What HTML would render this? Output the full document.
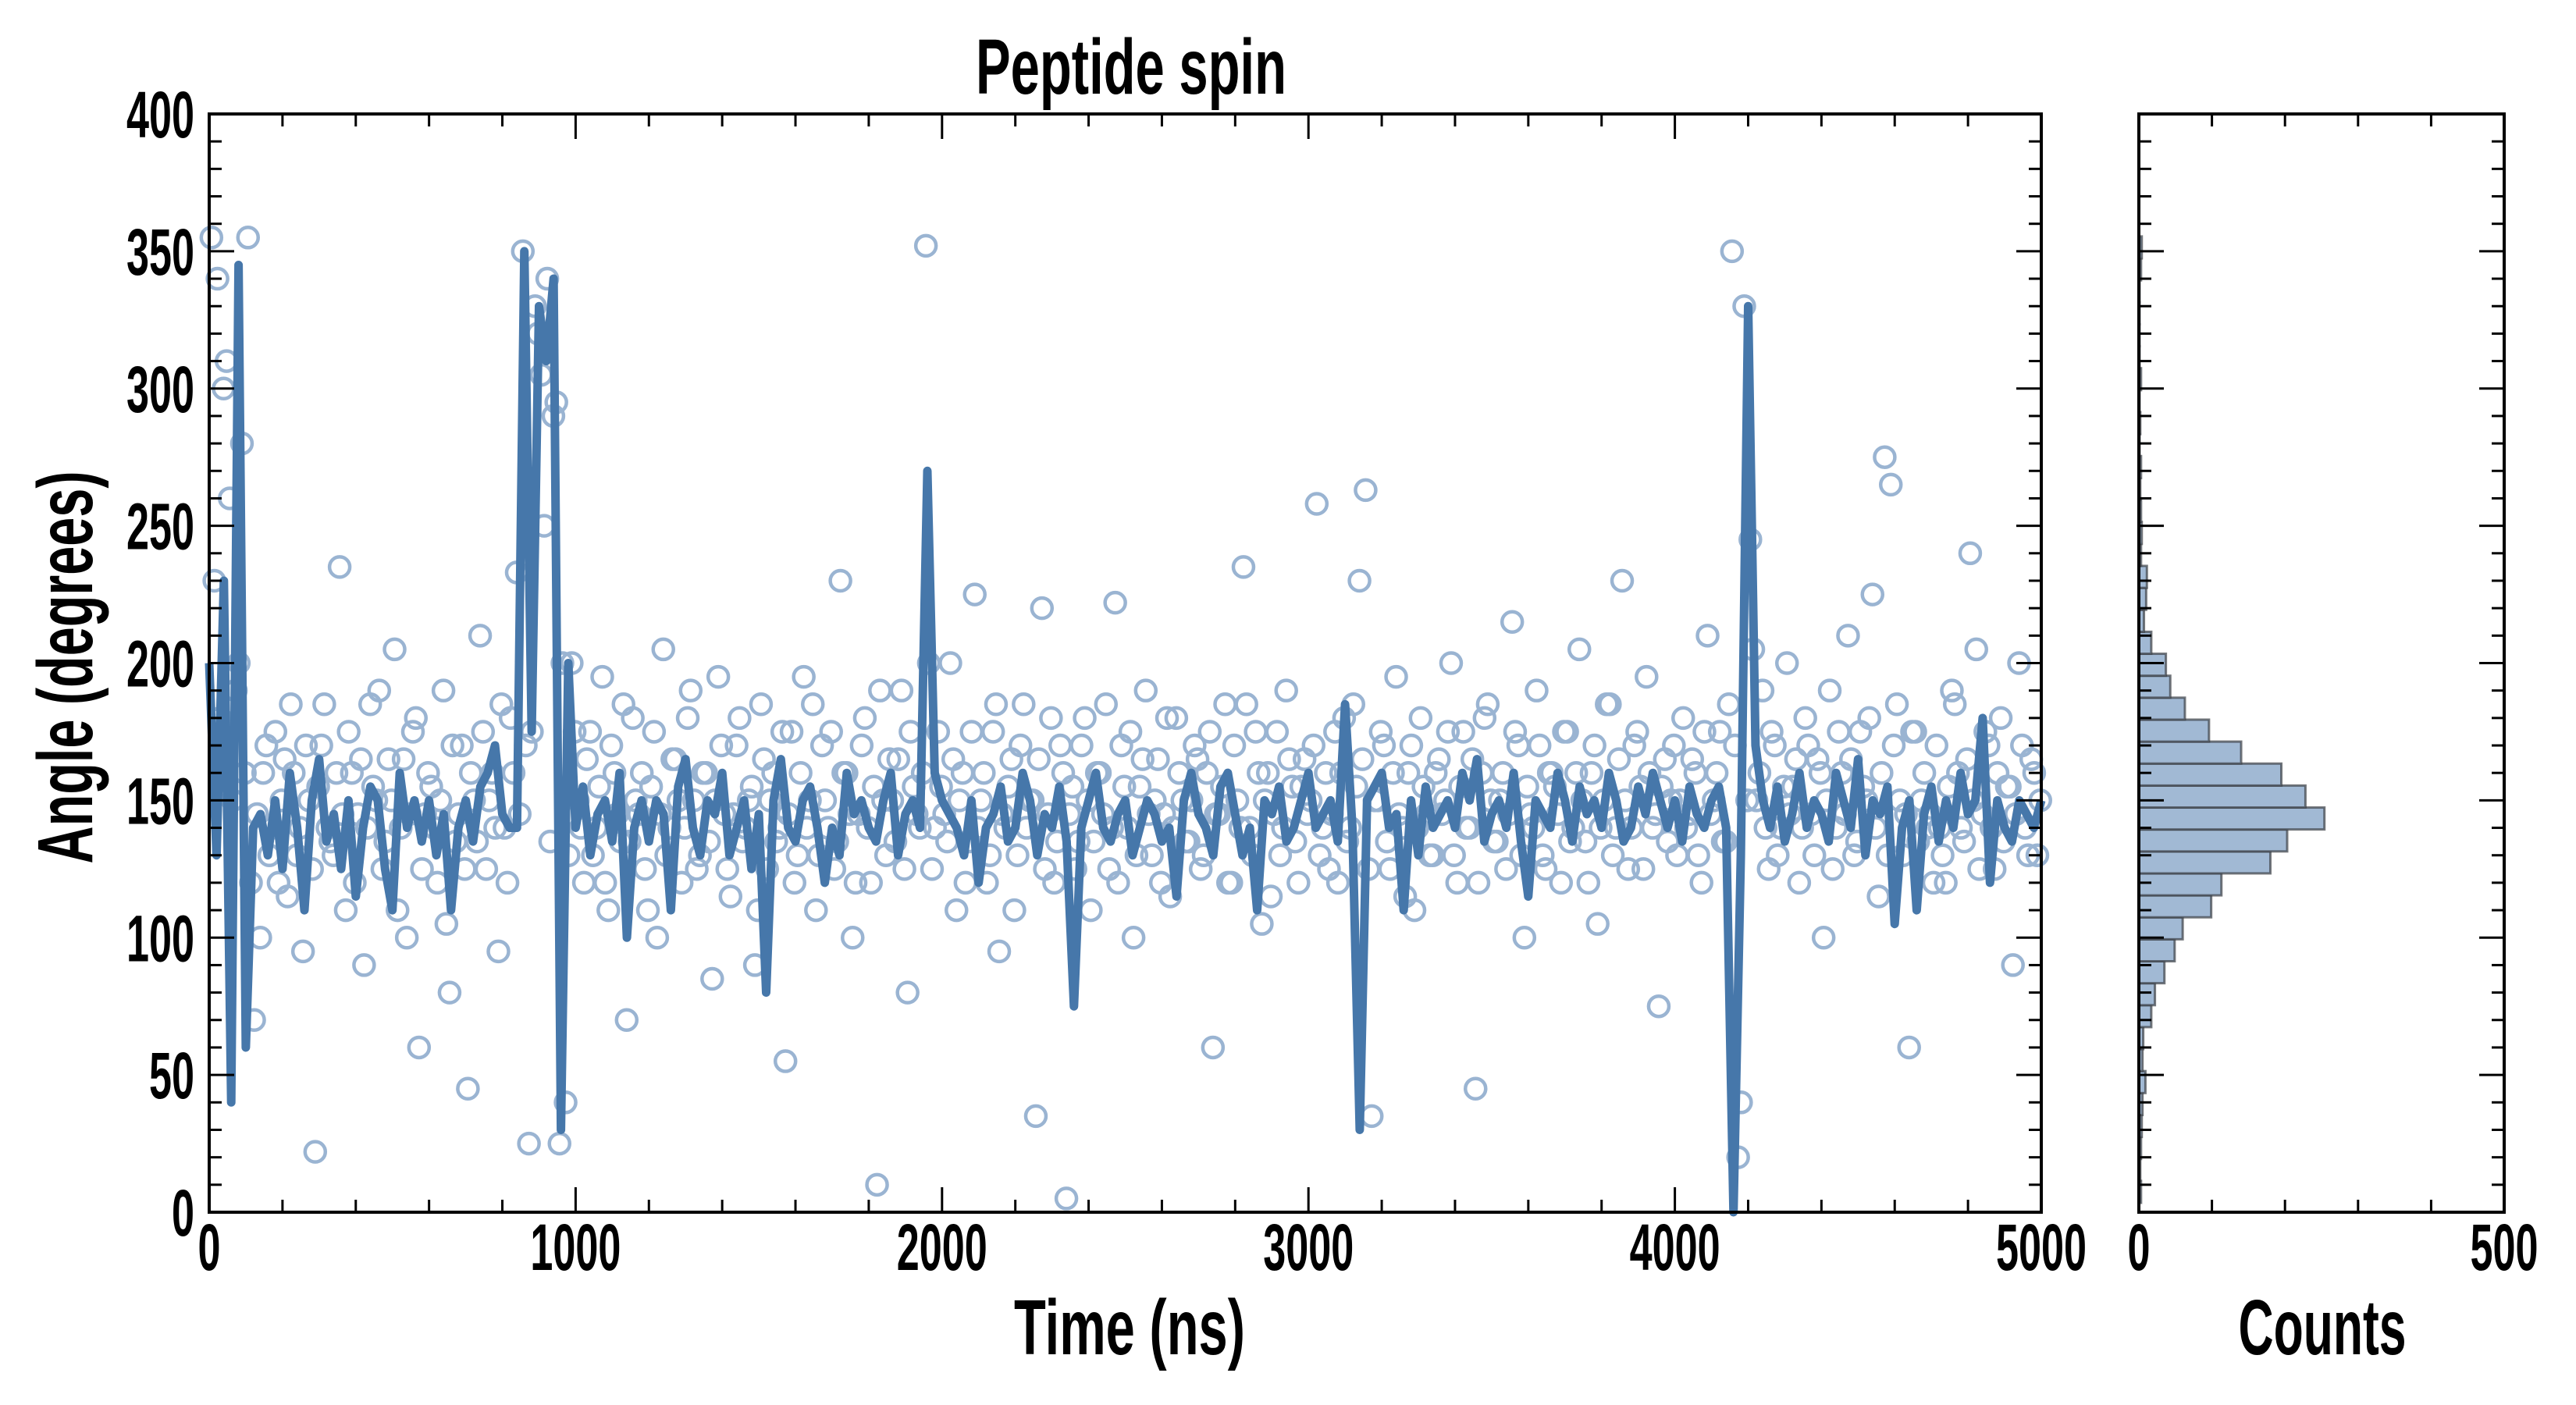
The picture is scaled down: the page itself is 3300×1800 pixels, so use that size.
<!DOCTYPE html>
<html><head><meta charset="utf-8"><style>
html,body{margin:0;padding:0;background:#fff;}
svg{display:block;}
text{font-family:"Liberation Sans Narrow","Liberation Sans",sans-serif;font-weight:bold;fill:#000;}
</style></head><body>
<svg id="chart" width="3300" height="1800" viewBox="0 0 3300 1800" xmlns="http://www.w3.org/2000/svg">
<g id="main"></g>
<g id="hist"></g>
<text x="1449" y="120" font-size="100" text-anchor="middle" textLength="398" lengthAdjust="spacingAndGlyphs">Peptide spin</text>
<text x="1447" y="1735" font-size="100" text-anchor="middle" textLength="296" lengthAdjust="spacingAndGlyphs">Time (ns)</text>
<text x="2975" y="1735" font-size="100" text-anchor="middle" textLength="215" lengthAdjust="spacingAndGlyphs">Counts</text>
<text x="0" y="0" font-size="100" text-anchor="middle" textLength="503" lengthAdjust="spacingAndGlyphs" transform="translate(118,855) rotate(-90)">Angle (degrees)</text>
</svg>
<script>
const lineValues = [
200,130,230,40,345,60,140,145,130,150,
125,160,140,110,150,165,135,145,125,150,
115,140,155,150,125,110,160,140,150,135,
150,130,145,110,140,150,135,155,160,170,
145,140,140,350,175,330,310,340,30,200,
140,155,130,145,150,135,160,100,140,150,
135,150,145,110,155,165,140,130,150,145,
160,130,140,150,125,145,80,150,165,140,
135,150,155,140,120,140,130,160,145,150,
140,135,150,160,130,145,150,140,270,160,
150,145,140,130,150,120,140,145,155,135,
140,160,150,130,145,140,155,135,75,140,
150,160,140,135,145,150,130,140,150,145,
135,140,115,150,160,145,140,130,155,160,
145,130,140,110,150,145,155,135,140,150,
160,140,145,150,135,185,140,30,150,155,
160,140,145,110,150,130,155,140,145,150,
140,160,150,165,135,145,150,140,160,135,
115,150,145,140,160,150,135,155,145,150,
140,160,150,135,140,155,145,160,150,140,
150,135,155,145,140,150,155,140,0,130,
330,170,150,140,155,135,145,160,140,150,
145,135,160,150,140,165,130,150,145,155,
105,140,150,110,145,155,135,150,140,160,
145,150,180,120,150,140,135,150,145,140,
150];
const lineStep = 20;
const scatterValues = [
355,340,300,260,190,280,355,70,100,170,140,120,165,185,130,95,150,22,170,140,
130,235,110,160,145,90,185,150,125,165,205,140,100,175,60,145,155,120,190,80,
135,170,45,150,210,125,160,95,140,180,233,350,25,330,305,340,290,25,40,200,
150,120,175,140,195,110,160,135,70,180,145,125,155,100,205,140,165,120,180,150,
130,160,85,195,145,115,170,135,150,90,185,125,160,140,55,175,130,195,150,110,
170,140,125,230,160,100,145,180,120,10,150,165,135,190,80,155,140,352,125,175,
145,200,110,160,135,225,150,120,175,95,140,165,130,185,150,35,220,145,120,170,
5,155,135,180,110,160,145,125,222,170,140,100,155,190,130,165,145,115,180,150,
135,170,125,160,60,145,185,120,150,235,140,175,105,160,145,130,190,155,120,165,
150,258,140,125,175,160,135,185,230,263,35,150,170,125,195,140,160,110,180,145,
130,165,150,200,120,175,140,45,160,185,135,150,125,215,170,100,145,190,130,160,
155,120,175,140,205,135,160,105,150,185,140,230,125,170,155,195,140,75,165,150,
130,180,145,160,120,210,150,175,135,350,20,330,245,150,190,125,170,140,200,155,
120,180,145,165,100,190,140,160,210,130,175,150,225,115,275,265,185,130,60,175,
150,140,120,140,120,190,160,135,240,205,145,170,125,180,155,90,200,140,165,130];
const scatterValues2 = [
230,180,310,150,200,160,120,145,160,130,175,150,115,160,140,170,125,155,185,135,
160,145,175,120,165,140,155,190,135,150,110,165,145,180,125,160,140,150,105,170,
145,125,160,135,175,150,140,185,120,160,145,170,175,320,250,135,295,200,130,175,
140,165,130,155,120,170,145,185,135,150,160,110,175,145,130,165,150,140,190,125,
160,135,150,170,125,145,180,140,155,110,165,150,135,175,145,120,160,140,185,130,
150,175,135,160,145,120,170,140,155,190,130,150,165,125,175,145,160,200,140,155,
135,165,150,120,175,140,160,130,185,145,155,110,170,140,150,165,125,180,135,160,
145,125,170,150,135,160,185,140,120,155,175,130,165,145,150,120,180,140,160,135,
150,165,130,175,145,155,120,170,140,185,130,160,150,115,175,140,165,135,155,145,
170,130,160,145,120,180,140,155,165,125,150,175,135,160,145,115,170,140,155,130,
160,145,175,130,155,140,165,120,180,150,135,160,145,175,130,155,140,170,125,160,
145,175,135,160,150,120,170,140,185,130,165,150,140,175,125,160,145,155,135,170,
150,140,165,130,175,145,160,135,185,170,40,150,205,160,140,175,130,155,145,165,
140,170,130,160,150,125,175,145,165,135,155,180,140,160,130,170,150,145,175,135,
160,145,170,130,155,185,140,165,150,125,175,140,160,135,155,145,170,130,160,150];
const histCounts = [3,2,3,4,5,9,5,6,17,22,35,49,60,99,113,180,203,254,228,195,140,96,63,43,37,17,7,10,11,3,4,3,2,3,1,2,1,3,1,1,1,1,3,4];
const histBinStart = 3.4;
const histBinWidth = 8;
const xTickLabels = ["0","1000","2000","3000","4000","5000"];
const yTickLabels = ["0","50","100","150","200","250","300","350","400"];
const histTickLabels = ["0","500"];

const NS="http://www.w3.org/2000/svg";
const L=268,R=2615,T=146,B=1553,HL=2740,HR=3208;
const xS=v=>L+(v/5000)*(R-L);
const yS=v=>B-(v/400)*(B-T);
const hS=v=>HL+(v/500)*(HR-HL);
function mk(tag,attrs,parent){const e=document.createElementNS(NS,tag);for(const k in attrs)e.setAttribute(k,attrs[k]);parent.appendChild(e);return e;}
const main=document.getElementById('main'),hist=document.getElementById('hist');

// scatter
const sg=mk('g',{},main);


function drawScatter(arr,off){
  arr.forEach((v,i)=>{
    const c=mk('circle',{cx:xS(i*5000/arr.length+off),cy:yS(v),r:13,fill:'none',stroke:'#9ab4d2','stroke-width':4.5},sg);
    
    
  });
}
drawScatter(scatterValues,6);
drawScatter(scatterValues2,14);
// line
const pts=lineValues.map((v,i)=>xS(i*lineStep).toFixed(1)+','+yS(v).toFixed(1)).join(' ');
const pl=mk('polyline',{points:pts,fill:'none',stroke:'#4677aa','stroke-width':11,'stroke-linejoin':'round'},main);



// histogram bars
histCounts.forEach((c,k)=>{
  if(!c)return;
  const lo=histBinStart+k*histBinWidth,hi=lo+histBinWidth;
  const r=mk('rect',{x:HL,y:yS(hi),width:hS(c)-HL,height:yS(lo)-yS(hi),fill:'#a1b9d4',stroke:'#3b3f45','stroke-opacity':0.7,'stroke-width':3},hist);
  
  
});

function frame(g,x0,x1){
  const f=mk('rect',{x:x0,y:T,width:x1-x0,height:B-T,fill:'none',stroke:'#000','stroke-width':4},g);
  
  
  for(let v=0;v<=400;v+=10){
    const y=yS(v),len=v%50===0?32:16;
    mk('line',{x1:x0,x2:x0+len,y1:y,y2:y,stroke:'#000','stroke-width':3},g);
    mk('line',{x1:x1,x2:x1-len,y1:y,y2:y,stroke:'#000','stroke-width':3},g);
  }
}
frame(main,L,R);frame(hist,HL,HR);
for(let v=0;v<=5000;v+=200){
  const x=xS(v),len=v%1000===0?32:16;
  mk('line',{x1:x,x2:x,y1:B,y2:B-len,stroke:'#000','stroke-width':3},main);
  mk('line',{x1:x,x2:x,y1:T,y2:T+len,stroke:'#000','stroke-width':3},main);
}
for(let v=0;v<=500;v+=100){
  const x=hS(v),len=v%500===0?32:16;
  mk('line',{x1:x,x2:x,y1:B,y2:B-len,stroke:'#000','stroke-width':3},hist);
  mk('line',{x1:x,x2:x,y1:T,y2:T+len,stroke:'#000','stroke-width':3},hist);
}
const dw=29;
xTickLabels.forEach((s,i)=>{
  const t=mk('text',{x:xS(i*1000),y:1627,'font-size':84,'text-anchor':'middle',textLength:s.length*dw,lengthAdjust:'spacingAndGlyphs'},main);
  t.textContent=s;
  
  
});
yTickLabels.forEach((s,i)=>{
  const t=mk('text',{x:249,y:yS(i*50)+30,'font-size':84,'text-anchor':'end',textLength:s.length*dw,lengthAdjust:'spacingAndGlyphs'},main);
  t.textContent=s;
  
  
});
histTickLabels.forEach((s,i)=>{
  const t=mk('text',{x:hS(i*500),y:1627,'font-size':84,'text-anchor':'middle',textLength:s.length*dw,lengthAdjust:'spacingAndGlyphs'},hist);
  t.textContent=s;
  
  
});
</script>
</body></html>
